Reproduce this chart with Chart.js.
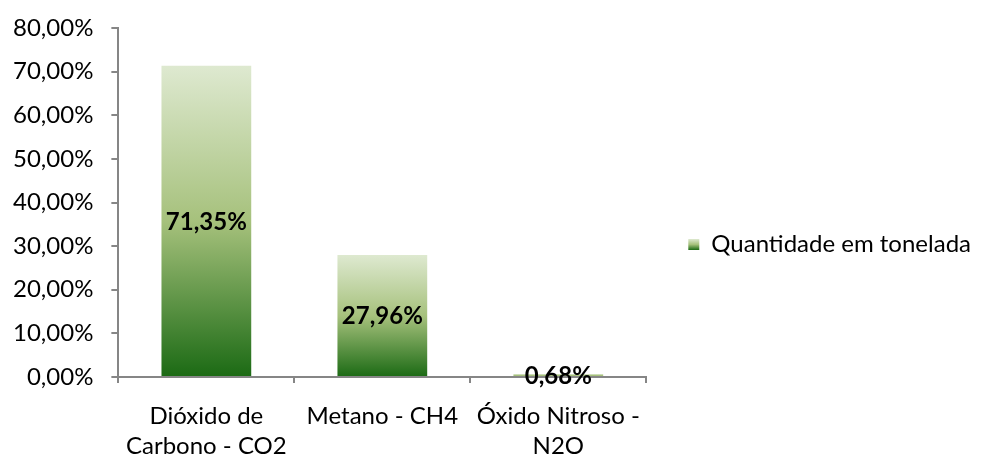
<!DOCTYPE html>
<html>
<head>
<meta charset="utf-8">
<script src="https://cdn.jsdelivr.net/npm/chart.js@4"></script>
<style>
  body { margin: 0; background: #fff; }
  #chart { display: block; }
</style>
</head>
<body>
<canvas id="chart" width="981" height="461"></canvas>
<script>
const categories = [["Dióxido de", "Carbono - CO2"], "Metano - CH4", ["Óxido Nitroso -", "N2O"]];
const seriesName = "Quantidade em tonelada";
const values = [71.35, 27.96, 0.68];
const yTicks = [0, 10, 20, 30, 40, 50, 60, 70, 80];

const FONT = "Lato";
const fmt = v => v.toFixed(2).replace(".", ",") + "%";

function greenGradient(ctx, bottom, top) {
  const g = ctx.createLinearGradient(0, bottom, 0, top);
  g.addColorStop(0, "#1b6a14");
  g.addColorStop(0.5, "#a6c17c");
  g.addColorStop(1, "#dee9d0");
  return g;
}

// draws the value text at the middle of each bar
const barLabels = {
  id: "barLabels",
  afterDatasetsDraw(chart) {
    const ctx = chart.ctx;
    const meta = chart.getDatasetMeta(0);
    ctx.save();
    ctx.font = "bold 24px " + FONT;
    ctx.fillStyle = "#000";
    ctx.textAlign = "center";
    ctx.textBaseline = "middle";
    meta.data.forEach((bar, i) => {
      const mid = (bar.y + bar.base) / 2;
      ctx.fillText(fmt(values[i]), bar.x, mid + 1);
    });
    ctx.restore();
  }
};

// gradient for the legend square
const legendGradient = {
  id: "legendGradient",
  beforeDraw(chart) {
    const lg = chart.legend;
    if (!lg || !lg.legendHitBoxes || !lg.legendHitBoxes.length) return;
    const box = lg.legendHitBoxes[0];
    const bh = 11;
    const top = box.top + (box.height - bh) / 2;
    if (!isFinite(top)) return;
    lg.legendItems[0].fillStyle = greenGradient(chart.ctx, top + bh, top);
  }
};

const ctx = document.getElementById("chart").getContext("2d");
new Chart(ctx, {
  type: "bar",
  data: {
    labels: categories,
    datasets: [{
      label: seriesName,
      data: values,
      backgroundColor: c => {
        const chart = c.chart;
        const y = chart.scales.y;
        if (!y || c.dataIndex === undefined) return "#6a9a4e";
        const bottom = y.getPixelForValue(0);
        const top = y.getPixelForValue(values[c.dataIndex]);
        if (!isFinite(bottom) || !isFinite(top)) return "#6a9a4e";
        return greenGradient(chart.ctx, bottom, top);
      },
      borderWidth: 0,
      barPercentage: 0.51,
      categoryPercentage: 1
    }]
  },
  options: {
    responsive: false,
    animation: false,
    layout: { padding: { left: 13, top: 28, right: 0, bottom: 0 } },
    scales: {
      y: {
        min: 0,
        max: 80,
        afterBuildTicks: axis => { axis.ticks = yTicks.map(v => ({ value: v })); },
        afterFit: s => {
          s.paddingTop = 0;
          s.paddingBottom = 0;
          s.width -= s.options.ticks.padding; // chart.js counts tick padding twice
        },
        border: { display: true, color: "#868686", width: 2 },
        grid: { drawOnChartArea: false, color: "#868686", tickLength: 7, lineWidth: 2 },
        ticks: {
          padding: 18,
          color: "#000",
          font: { family: FONT, size: 24 },
          callback: v => fmt(v)
        }
      },
      x: {
        afterFit: s => {
          s.paddingLeft = 0;
          s.paddingRight = 0;
          s.height -= s.options.ticks.padding;
        },
        border: { display: true, color: "#868686", width: 2 },
        grid: { drawOnChartArea: false, color: "#868686", tickLength: 6, lineWidth: 2, offset: true },
        ticks: {
          padding: 18,
          color: "#000",
          maxRotation: 0,
          font: { family: FONT, size: 24, lineHeight: 1.25 }
        }
      }
    },
    plugins: {
      legend: {
        position: "right",
        maxWidth: 420,
        labels: {
          boxWidth: 11,
          boxHeight: 11,
          padding: 42,
          color: "#000",
          font: { family: FONT, size: 24 }
        }
      },
      tooltip: { enabled: false }
    }
  },
  plugins: [legendGradient, barLabels]
});
</script>
</body>
</html>
